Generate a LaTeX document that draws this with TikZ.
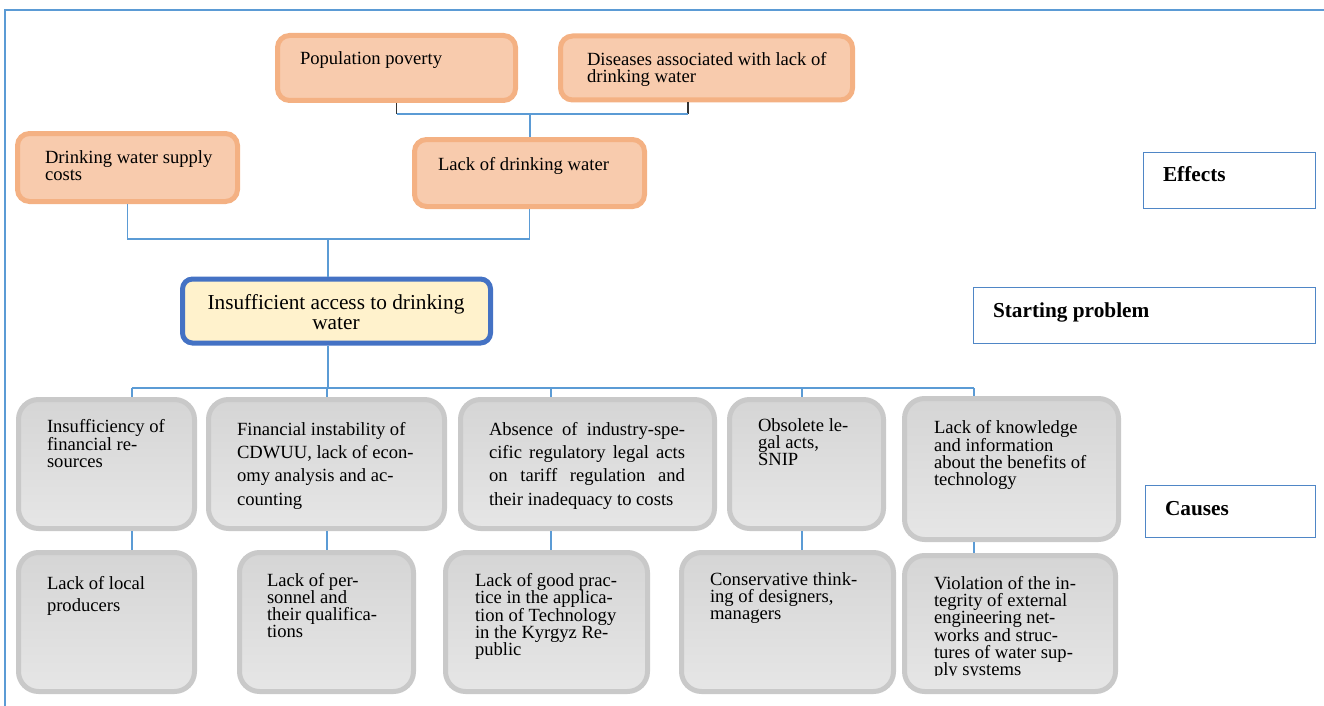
\documentclass[tikz,border=0pt]{standalone}
\usepackage{fontspec}
\setmainfont{Liberation Serif}

\definecolor{linkblue}{HTML}{5B9BD5}
\definecolor{orfill}{HTML}{F8CBAD}
\definecolor{ordraw}{HTML}{F4B183}
\definecolor{corefill}{HTML}{FFF2CC}
\definecolor{coredraw}{HTML}{4472C4}
\definecolor{gtop}{HTML}{D5D5D5}
\definecolor{gbot}{HTML}{E6E6E6}
\definecolor{gdraw}{HTML}{C9C9C9}
\definecolor{tagdraw}{HTML}{4F86C6}

\tikzset{
  box/.style={inner sep=0pt, line width=5pt},
  effectbox/.style={box, draw=ordraw, fill=orfill, rounded corners=12pt},
  corebox/.style={box, draw=coredraw, fill=corefill, rounded corners=10pt},
  causebox/.style={box, draw=gdraw, top color=gtop, bottom color=gbot, rounded corners=20pt},
  tagbox/.style={inner sep=0pt, draw=tagdraw, line width=1.4pt},
  txt/.style={inner sep=0pt, outer sep=0pt, anchor=north west, align=left,
    font=\fontsize{18.6}{17}\selectfont},
  tagtxt/.style={inner sep=0pt, outer sep=0pt, anchor=north west,
    font=\fontsize{21.3}{21}\selectfont\bfseries},
  link/.style={draw=linkblue, line width=1.3pt},
  stub/.style={draw=black!80, line width=1.2pt}
}

\begin{document}
\begin{tikzpicture}[x=1pt, y=-1pt]
\useasboundingbox (0,0) rectangle (1324,706);

% frame
\draw[link, line width=1.5pt] (1324,10) -- (5,10) -- (5,706);

% effects
\node[effectbox, minimum width=238pt, minimum height=65pt] (pop)  at (396.5,68) {};
\node[effectbox, minimum width=292pt, minimum height=64pt] (dis)  at (706.5,68) {};
\node[effectbox, minimum width=220pt, minimum height=68pt] (cost) at (127.5,167.5) {};
\node[effectbox, minimum width=230pt, minimum height=67pt] (lack) at (529.5,173) {};

% starting problem
\node[corebox, minimum width=308pt, minimum height=64pt] (core) at (336.5,311) {};

% causes, first row
\node[causebox, minimum width=176pt, minimum height=129pt] (a1) at (106.5,464) {};
\node[causebox, minimum width=236pt, minimum height=129pt] (a2) at (326.5,464) {};
\node[causebox, minimum width=254pt, minimum height=129pt] (a3) at (587.5,464) {};
\node[causebox, minimum width=154pt, minimum height=129pt] (a4) at (806.5,464) {};
\node[causebox, minimum width=214pt, minimum height=141pt] (a5) at (1011.5,469) {};

% causes, second row
\node[causebox, minimum width=176pt, minimum height=139pt] (b1) at (106.5,622) {};
\node[causebox, minimum width=174pt, minimum height=139pt] (b2) at (326.5,622) {};
\node[causebox, minimum width=202pt, minimum height=139pt] (b3) at (546.5,622) {};
\node[causebox, minimum width=212pt, minimum height=139pt] (b4) at (787.5,622) {};
\node[causebox, minimum width=211pt, minimum height=136pt] (b5) at (1010,623.5) {};

% level tags
\node[tagbox, minimum width=171.5pt, minimum height=55.5pt] (teff)  at (1229.5,180.5) {};
\node[tagbox, minimum width=341.5pt, minimum height=55.5pt] (tstart) at (1144.5,315.5) {};
\node[tagbox, minimum width=169.5pt, minimum height=51.5pt] (tcause) at (1230.5,511.5) {};

% texts
\node[txt] (pop-t) at (300,52) {Population poverty};
\node[txt] (dis-t) at (587,52) {Diseases associated with lack of\\drinking water};
\node[txt] (cost-t) at (45,151) {Drinking water supply\\costs};
\node[txt] (lack-t) at (438,157) {Lack of drinking water};
\node[inner sep=0pt, anchor=north, align=center, font=\fontsize{21.3}{20.5}\selectfont]
  (core-t) at (336,294) {Insufficient access to drinking\\water};

\node[tagtxt] (teff-t) at (1163,167) {Effects};
\node[tagtxt] (tstart-t) at (993,303) {Starting problem};
\node[tagtxt] (tcause-t) at (1165,501) {Causes};

\node[txt] (a1-t) at (47,419) {Insufficiency of\\financial re-\\sources};
\node[txt, font=\fontsize{18.6}{23.3}\selectfont] (a2-t) at (237,422)
  {Financial instability of\\CDWUU, lack of econ-\\omy analysis and ac-\\counting};
\node[txt, font=\fontsize{18.6}{23.3}\selectfont] (a3-t) at (489,422)
  {\makebox[196pt][s]{Absence of industry-spe-}\\
   \makebox[196pt][s]{cific regulatory legal acts}\\
   \makebox[196pt][s]{on tariff regulation and}\\
   their inadequacy to costs};
\node[txt] (a4-t) at (758,419) {Obsolete le-\\gal acts,\\SNIP};
\node[txt] (a5-t) at (934,420) {Lack of knowledge\\and information\\about the benefits of\\technology};

\node[txt, font=\fontsize{18.6}{22}\selectfont] (b1-t) at (47,576) {Lack of local\\producers};
\node[txt] (b2-t) at (267,573) {Lack of per-\\sonnel and\\their qualifica-\\tions};
\node[txt] (b3-t) at (475,573) {Lack of good prac-\\tice in the applica-\\tion of Technology\\in the Kyrgyz Re-\\public};
\node[txt] (b4-t) at (710,573) {Conservative think-\\ing of designers,\\managers};
\begin{scope}
  \clip (900,540) rectangle (1120,675);
  \node[txt, font=\fontsize{18.6}{17.3}\selectfont] (b5-t) at (934,576)
    {Violation of the in-\\tegrity of external\\engineering net-\\works and struc-\\tures of water sup-\\ply systems};
\end{scope}

% connectors between effects
\coordinate (jt) at (530,114);
\coordinate (dstem) at (688,114);
\draw[stub] (pop.south) -- (pop.south |- jt);
\draw[stub] (dis.south -| dstem) -- (dstem);
\draw[link] (pop.south |- jt) -- (dstem);
\draw[link] (jt) -- (jt |- lack.north);

% effects to starting problem
\coordinate (jm) at (328,239);
\draw[link] (cost.south) -- (cost.south |- jm) -- (lack.south |- jm) -- (lack.south);
\draw[link] (jm) -- (jm |- core.north);

% starting problem to causes
\coordinate (jb) at (328,388);
\draw[link] (jm |- core.south) -- (jb);
\foreach \k/\x in {1/132, 2/327, 3/551, 4/802, 5/974} {
  \coordinate (s\k) at (\x,388);
  \draw[link] (s\k) -- (s\k |- a\k.north);
  \draw[link] (s\k |- a\k.south) -- (s\k |- b\k.north);
}
\draw[link] (s1) -- (s5);

\end{tikzpicture}
\end{document}
